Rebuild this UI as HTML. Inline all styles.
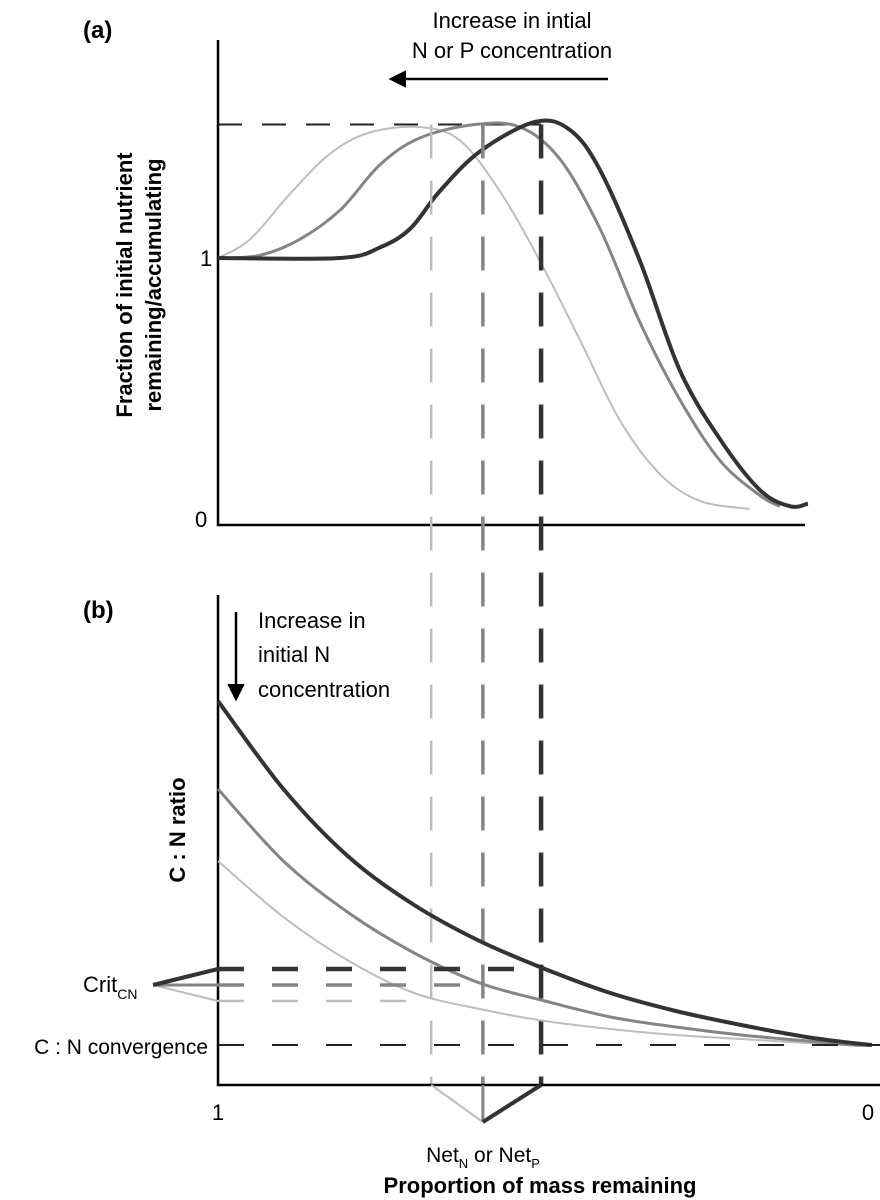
<!DOCTYPE html>
<html><head><meta charset="utf-8"><style>
html,body{margin:0;padding:0;background:#fff;}
svg{display:block;font-family:"Liberation Sans",sans-serif;}
</style></head><body>
<svg id="chart" width="880" height="1200" viewBox="0 0 880 1200">
<defs><marker id="ah" viewBox="0 0 10 10" refX="8" refY="5" markerWidth="7" markerHeight="7" orient="auto"><path d="M0,0 L10,5 L0,10 z" fill="#000"/></marker></defs>
<g id="ga"></g>
<g id="gb"></g>
<g id="gt">
<text x="83" y="38" font-size="24" font-weight="bold">(a)</text>
<text x="512" y="28" font-size="22" text-anchor="middle">Increase in intial</text>
<text x="512" y="58" font-size="22" text-anchor="middle">N or P concentration</text>
<line x1="608" y1="79" x2="392" y2="79" stroke="#000" stroke-width="2.5" marker-end="url(#ah)"/>
<text transform="translate(132,285) rotate(-90)" font-size="22" font-weight="bold" text-anchor="middle">Fraction of initial nutrient</text>
<text transform="translate(161,285) rotate(-90)" font-size="22" font-weight="bold" text-anchor="middle">remaining/accumulating</text>
<text x="200" y="266" font-size="22">1</text>
<text x="195" y="527" font-size="22">0</text>
<text x="83" y="618" font-size="24" font-weight="bold">(b)</text>
<text x="258" y="628" font-size="22">Increase in</text>
<text x="258" y="662" font-size="22">initial N</text>
<text x="258" y="697" font-size="22">concentration</text>
<line x1="236" y1="612" x2="236" y2="698" stroke="#000" stroke-width="2.5" marker-end="url(#ah)"/>
<text transform="translate(185,830) rotate(-90)" font-size="22" font-weight="bold" text-anchor="middle">C : N ratio</text>
<text x="83" y="992" font-size="22">Crit<tspan font-size="14" dy="7">CN</tspan></text>
<text x="208" y="1054" font-size="21" text-anchor="end">C : N convergence</text>
<text x="218" y="1120" font-size="22" text-anchor="middle">1</text>
<text x="868" y="1120" font-size="22" text-anchor="middle">0</text>
<text x="483" y="1162" font-size="21" text-anchor="middle">Net<tspan font-size="13" dy="6">N</tspan><tspan dy="-6"> or Net</tspan><tspan font-size="13" dy="6">P</tspan></text>
<text x="540" y="1193" font-size="22" font-weight="bold" text-anchor="middle">Proportion of mass remaining</text>
</g>
</svg>
<script>
// Panel (a): fraction of initial nutrient vs proportion of mass remaining
const aLightM = [1,0.951,0.890,0.829,0.768,0.691,0.630,0.569,0.508,0.446,0.385,0.324,0.263,0.187];
const aLightF = [1.0,1.07,1.24,1.39,1.47,1.49,1.44,1.25,0.99,0.69,0.39,0.19,0.09,0.06];
const aMidM = [1,0.936,0.875,0.813,0.752,0.691,0.607,0.538,0.477,0.416,0.355,0.294,0.232,0.171,0.141];
const aMidF = [1.0,1.01,1.07,1.18,1.35,1.45,1.50,1.49,1.37,1.11,0.76,0.47,0.24,0.11,0.07];
const aDarkM = [1,0.813,0.752,0.706,0.661,0.599,0.515,0.462,0.416,0.355,0.294,0.232,0.171,0.125,0.098];
const aDarkF = [1.0,1.0,1.04,1.11,1.25,1.40,1.51,1.48,1.33,0.99,0.58,0.32,0.13,0.07,0.08];
const peakF = 1.5;
// Panel (b): C:N ratio
const bM = [1,0.9,0.8,0.7,0.6,0.5,0.4,0.3,0.2,0.1,0.03,0];
const bDark = [96,74,57,45,36,29,23,18.5,15,12,10.5,10];
const bMid = [74,56,43,33,25.5,21,17,14.5,12.5,11,10,10];
const bLight = [56,42,31,23,19,16,14,12.5,11.5,10.5,10,10];
const critCN = [21,25,29];
const convergenceCN = 10;
const netM = [0.674,0.595,0.506];

const X0=218, XW=654;
const xS = m => X0 + (1-m)*XW;
const yA = f => 525 - f*267;
const yB = v => 1085 - v*4;
const cols = ['#bdbdbd','#858585','#333333'];
const widths = [2,3,4];
const NS='http://www.w3.org/2000/svg';
const ga=document.getElementById('ga'), gb=document.getElementById('gb');

function smooth(pts){
  let d='M'+pts[0][0]+','+pts[0][1];
  for(let i=0;i<pts.length-1;i++){
    const p0=pts[Math.max(0,i-1)],p1=pts[i],p2=pts[i+1],p3=pts[Math.min(pts.length-1,i+2)];
    const c1=[p1[0]+(p2[0]-p0[0])/6,p1[1]+(p2[1]-p0[1])/6];
    const c2=[p2[0]-(p3[0]-p1[0])/6,p2[1]-(p3[1]-p1[1])/6];
    d+=` C${c1[0]},${c1[1]} ${c2[0]},${c2[1]} ${p2[0]},${p2[1]}`;
  }
  return d;
}
function line(g,x1,y1,x2,y2,c,w,dash){
  const l=document.createElementNS(NS,'line');
  l.setAttribute('x1',x1);l.setAttribute('y1',y1);l.setAttribute('x2',x2);l.setAttribute('y2',y2);
  l.setAttribute('stroke',c);l.setAttribute('stroke-width',w);
  if(dash)l.setAttribute('stroke-dasharray',dash);
  g.appendChild(l);return l;
}
function curve(g,ms,vs,ys,c,w){
  const p=document.createElementNS(NS,'path');
  p.setAttribute('d',smooth(ms.map((m,i)=>[xS(m),ys(vs[i])])));
  p.setAttribute('fill','none');p.setAttribute('stroke',c);p.setAttribute('stroke-width',w);
  g.appendChild(p);return p;
}
let ax=line(ga,X0,40,X0,526,'#000',2.5);


ax=line(ga,X0-1,525,805,525,'#000',2.5);


ax=line(gb,X0,595,X0,1086,'#000',2.5);


ax=line(gb,X0-1,1085,880,1085,'#000',2.5);


let pk=line(ga,X0,yA(peakF),xS(netM[2]),yA(peakF),'#222',2,'24 20');


[[aLightM,aLightF],[aMidM,aMidF],[aDarkM,aDarkF]].forEach((s,i)=>{
  const p=curve(ga,s[0],s[1],yA,cols[i],widths[i]);
  
  
});
[bLight,bMid,bDark].forEach((s,i)=>{
  const p=curve(gb,bM,s,yB,cols[i],widths[i]);
  
  
});
let cv=line(gb,X0,yB(convergenceCN),880,yB(convergenceCN),'#222',2,'26 28');


netM.forEach((m,i)=>{
  const x=xS(m), c=cols[i], w=widths[i]+0.5;
  const cl=line(gb,X0,yB(critCN[i]),x,yB(critCN[i]),c,w,'26 28');
  
  
  const vl=line(ga,x,yA(peakF),x,1085,c,w,'34 22');
  
  
  const t=line(gb,153,yB(critCN[1]),X0,yB(critCN[i]),c,widths[i]);
  
  
  const b=line(gb,x,1085,xS(netM[1]),1122,c,widths[i]);
  
  
});
</script>
</body></html>
